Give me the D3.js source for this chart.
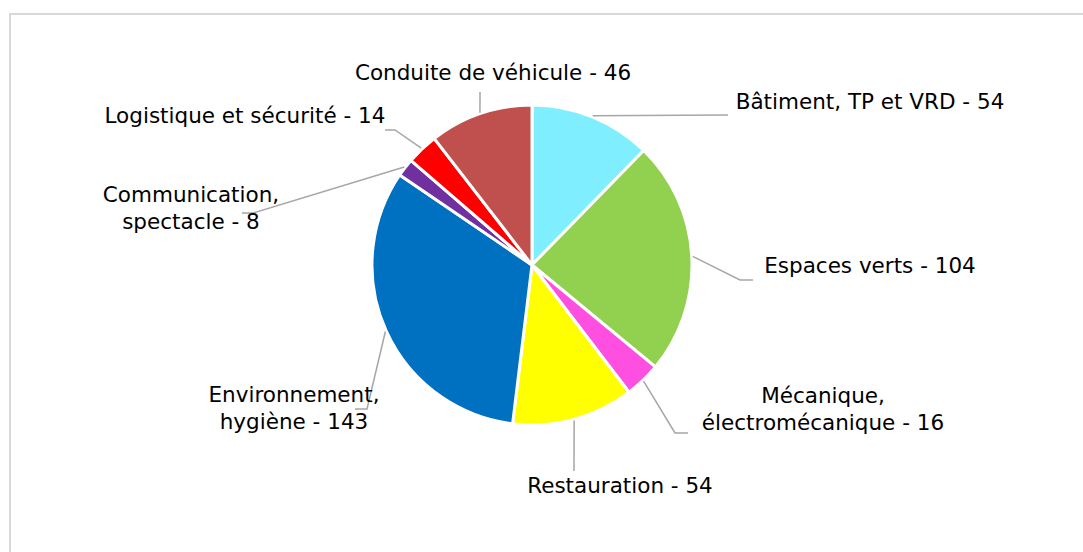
<!DOCTYPE html>
<html>
<head>
<meta charset="utf-8">
<script src="https://cdn.jsdelivr.net/npm/d3@7"></script>
<style>
  html, body { margin: 0; padding: 0; background: #fff; }
  svg { display: block; }
  .pie-label { font-family: "DejaVu Sans", sans-serif; font-size: 21.5px; fill: #000; }
  .leader { fill: none; stroke: #a6a6a6; stroke-width: 1.5; }
</style>
</head>
<body>
<div id="chart"></div>
<script>
(function () {
  'use strict';

  // ── Data ─────────────────────────────────────────────
  var categories = [
    'Bâtiment, TP et VRD',
    'Espaces verts',
    'Mécanique, électromécanique',
    'Restauration',
    'Environnement, hygiène',
    'Communication, spectacle',
    'Logistique et sécurité',
    'Conduite de véhicule'
  ];
  var values = [54, 104, 16, 54, 143, 8, 14, 46];
  var colors = ['#7FEFFF', '#92D050', '#FF4FE0', '#FFFF00', '#0070C0', '#7030A0', '#FF0000', '#C0504D'];

  // label placement (layout only): text centre, first baseline, wrap after comma, leader elbows
  var labelLayout = [
    { x: 870, y: 109, wrap: false, path: [[728, 115]] },
    { x: 870, y: 273, wrap: false, path: [[740, 280], [753, 280]] },
    { x: 823, y: 403, wrap: true,  path: [[675, 433], [688, 433]] },
    { x: 620, y: 493, wrap: false, path: [[574, 471]] },
    { x: 294, y: 402, wrap: true,  path: [[367, 409], [355, 409]] },
    { x: 191, y: 202, wrap: true,  path: [[253, 213], [242, 213]] },
    { x: 245, y: 123, wrap: false, path: [[395, 130], [385, 130]] },
    { x: 493, y: 80,  wrap: false, path: [[480, 92]] }
  ];

  var w = 1083, h = 552;
  var cx = 532, cy = 265, radius = 160;

  var svg = d3.select('#chart').append('svg')
    .attr('width', w)
    .attr('height', h);

  svg.append('rect')
    .attr('x', 10).attr('y', 14)
    .attr('width', 1100).attr('height', 600)
    .attr('fill', '#fff')
    .attr('stroke', '#d9d9d9')
    .attr('stroke-width', 2);

  var data = categories.map(function (c, i) { return { name: c, value: values[i], i: i }; });

  var pie = d3.pie().sort(null).value(function (d) { return d.value; });
  var arcs = pie(data);

  var arc = d3.arc().innerRadius(0).outerRadius(radius);
  var edge = d3.arc().innerRadius(radius + 1).outerRadius(radius + 1);

  var g = svg.append('g').attr('transform', 'translate(' + cx + ',' + cy + ')');

  g.selectAll('path.slice')
    .data(arcs)
    .enter().append('path')
    .attr('class', 'slice')
    .attr('d', arc)
    .attr('fill', function (d) { return colors[d.data.i]; })
    .attr('stroke', '#fff')
    .attr('stroke-width', 3)
    .attr('stroke-linejoin', 'round');

  // leader lines
  var line = d3.line();
  svg.append('g').selectAll('path.leader')
    .data(arcs)
    .enter().append('path')
    .attr('class', 'leader')
    .attr('d', function (d) {
      var c = edge.centroid(d);
      var pts = [[cx + c[0], cy + c[1]]].concat(labelLayout[d.data.i].path);
      return line(pts);
    });

  // labels
  var labels = svg.append('g').selectAll('text')
    .data(arcs)
    .enter().append('text')
    .attr('class', 'pie-label')
    .attr('text-anchor', 'middle')
    .attr('x', function (d) { return labelLayout[d.data.i].x; })
    .attr('y', function (d) { return labelLayout[d.data.i].y; });

  labels.each(function (d) {
    var lay = labelLayout[d.data.i];
    var full = d.data.name + ' - ' + d.data.value;
    var lines = [full];
    if (lay.wrap) {
      var k = d.data.name.indexOf(',');
      lines = [d.data.name.slice(0, k + 1), d.data.name.slice(k + 2) + ' - ' + d.data.value];
    }
    var t = d3.select(this);
    lines.forEach(function (s, j) {
      t.append('tspan')
        .attr('x', lay.x)
        .attr('dy', j === 0 ? 0 : 27)
        .text(s);
    });
  });
})();
</script>
</body>
</html>
